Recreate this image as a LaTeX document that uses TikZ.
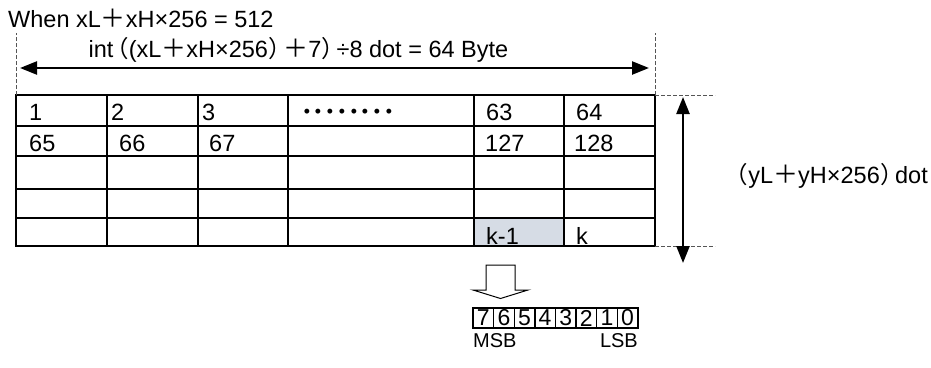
\documentclass[tikz,border=0pt]{standalone}
\usepackage{fontspec}
\setmainfont{Liberation Sans}
\newfontfamily\cjk{Noto Sans CJK JP}
\newfontfamily\cjkp[RawFeature={+palt}]{Noto Sans CJK JP}
\usetikzlibrary{arrows.meta}
\newcommand{\zplus}{{\cjk\fontsize{25}{25}\selectfont ＋}}
\newcommand{\zlp}{\kern2.5pt{\cjkp （}\kern1pt}
\newcommand{\zrp}{\kern1pt{\cjkp ）}\kern2.5pt}
\definecolor{shadecell}{HTML}{D6DCE5}
\definecolor{dashgray}{HTML}{555555}
\begin{document}
\begin{tikzpicture}[x=1pt,y=-1pt,
  font=\fontsize{23.5}{26}\selectfont,
  cellbox/.style={draw, line width=1.9pt, inner sep=0pt, outer sep=0pt},
  txt/.style={inner sep=0pt, anchor=base west},
  bigarrow/.style={line width=2.4pt, {Triangle[length=17pt,width=13pt]}-{Triangle[length=17pt,width=13pt]}},
  guide/.style={draw=dashgray, line width=0.9pt, dash pattern=on 4pt off 2pt},
  bitbox/.style={draw, line width=1.4pt, inner sep=0pt, minimum width=20.6pt, minimum height=20pt, font=\fontsize{23}{24}\selectfont},
  hollow/.style={draw, line width=1pt, fill=white, line join=miter}
]
\useasboundingbox (0,0) rectangle (931,367);

% table cells
\foreach \xa/\xb [count=\i] in {16/107,107/198,198/288,288/474,474/564,564/655}{
  \foreach \ya/\yb [count=\j] in {95/126,126/156,156/189,189/218,218/246}{
    \node[cellbox, minimum width={(\xb-\xa)*1pt}, minimum height={(\yb-\ya)*1pt}]
      (c-\j-\i) at ({(\xa+\xb)/2},{(\ya+\yb)/2}) {};
  }
}
\fill[shadecell] ([xshift=0.95pt,yshift=-0.95pt]c-5-5.north west) rectangle ([xshift=-0.95pt,yshift=0.95pt]c-5-5.south east);

% cell texts
\node[txt] (t1) at (29,120) {1};
\node[txt] (t2) at (111,120) {2};
\node[txt] (t3) at (202,120) {3};
\node[inner sep=0pt, anchor=base west, font={\cjk\bfseries\fontsize{23.4}{24}\selectfont}] (tdots) at (301,120) {････････};
\node[txt] (t63) at (486,120) {63};
\node[txt] (t64) at (576,120) {64};
\node[txt] (t65) at (29,151) {65};
\node[txt] (t66) at (119,151) {66};
\node[txt] (t67) at (209,151) {67};
\node[txt] (t127) at (485,151) {127};
\node[txt] (t128) at (574,151) {128};
\node[txt] (tk1) at (486,244) {k-1};
\node[txt] (tk) at (576,244) {k};

% title and labels
\node[txt] (title) at (8,27) {When xL\zplus xH×256 = 512};
\node[txt] (wlabel) at (88.5,57) {int\zlp(xL\zplus xH×256\zrp\zplus 7\zrp÷8 dot = 64 Byte};
\node[inner sep=0pt, anchor=base east] (hlabel) at (928,183) {\zlp yL\zplus yH×256\zrp dot};

% width guides and arrow
\coordinate (gl) at (16,33);
\coordinate (gr) at (655,33);
\draw[guide] (c-1-1.north west) -- (gl);
\draw[guide] (c-1-6.north east) -- (gr);
\coordinate (hl) at (20,68);
\coordinate (hr) at (649,68);
\draw[bigarrow] (hl) -- (hr);

% height guides and arrow
\coordinate (gt) at (715,95);
\coordinate (gb) at (715,246);
\draw[guide] (c-1-6.north east) -- (gt);
\draw[guide] (c-5-6.south east) -- (gb);
\coordinate (vt) at (683,97);
\coordinate (vb) at (683,263);
\draw[bigarrow] (vt) -- (vb);

% hollow down arrow
\draw[hollow] (486,265) -- (515,265) -- (515,290) -- (528,290) -- (500.5,298.5) -- (473,290) -- (486,290) -- cycle;

% bit boxes
\foreach \b [count=\k from 0] in {7,6,5,4,3,2,1,0}{
  \node[bitbox] (b\b) at ({473+10.3+\k*20.6},318) {\b};
}
\node[txt, font=\fontsize{20}{22}\selectfont] (msb) at (473,347) {MSB};
\node[inner sep=0pt, anchor=base east, font=\fontsize{20}{22}\selectfont] (lsb) at (638,347) {LSB};
\end{tikzpicture}
\end{document}
